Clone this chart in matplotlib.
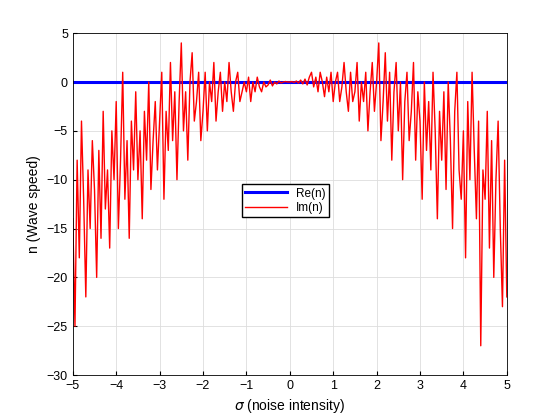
import matplotlib
matplotlib.use("Agg")
import matplotlib.pyplot as plt
import numpy as np

plt.rcParams['font.family'] = ['Liberation Sans', 'DejaVu Sans']

x_start, x_stop = -5.0, 5.0
im_vals = [
 -14,-25,-8,-18,-4,-12,-22,-9,-15,-6,
 -11,-20,-7,-16,-3,-13,-9,-17,-5,-10,
 -2,-15,-8,1,-12,-6,-16,-4,-9,-1,
 -10,-5,-14,-3,-8,0,-11,-6,-2,-9,
 -4,1,-12,-3,-7,2,-6,-1,-10,-2,
 4,-5,-1,-8,0,3,-4,-2,1,-6,
 -3,1,-5,0,-2,2,-4,-1,1,-3,
 0,-2,2,-1,-3,0,1,-2,-1,0,
 -1,0.5,-2,0,-1,0.5,-0.5,-1,0,-0.5,
 -0.3,0.2,-0.4,0,-0.2,0.1,-0.1,0,0.05,0,
 0,0.05,-0.05,0.1,-0.1,0.2,-0.2,0.3,-0.3,0.5,
 1,-0.5,0.5,-1,1,0,-1.5,0.5,-1,1,
 -2,0,1,-2,-0.5,2,-1,-3,1,-2,
 -1,2,-4,0,-2,1,-5,-1,2,-3,
 0,4,-6,-2,3,-4,1,-8,-1,2,
 -5,0,-10,-2,1,-6,-3,2,-8,-1,
 -4,-12,0,-7,-2,-9,1,-5,-14,-3,
 -8,-1,-11,0,-6,-15,-3,1,-9,-12,
 -5,-18,-2,-10,1,-7,-14,-4,-27,-9,
 -12,-3,-17,-6,-20,-10,-4,-15,-23,-8,
 -22]
x = np.linspace(x_start, x_stop, len(im_vals))
re_vals = [0.0] * len(im_vals)

fig = plt.figure(figsize=(5.6, 4.2), dpi=100)
ax = fig.add_axes([0.130, 0.107, 0.775, 0.814])
ax.plot(x, re_vals, color="#0000ff", lw=2.2, label="Re(n)")
ax.plot(x, im_vals, color="#ff0000", lw=1.0, label="Im(n)")
ax.set_xlim(-5, 5)
ax.set_ylim(-30, 5)
ax.set_xticks(range(-5, 6))
ax.set_yticks(range(-30, 6, 5))
ax.grid(True, color="#dddddd", lw=0.6)
ax.tick_params(direction="in", labelsize=9, length=3)
for s in ax.spines.values():
    s.set_linewidth(0.6)
ax.set_xlabel(r"$\sigma$ (noise intensity)", fontsize=10)
ax.set_ylabel("n (Wave speed)", fontsize=10)
ax.legend(loc="center", bbox_to_anchor=(0.49, 0.51), fontsize=8.5,
          fancybox=False, edgecolor="black", framealpha=1, handlelength=3.5,
          borderpad=0.3, labelspacing=0.2)
fig.savefig("out.png", dpi=100)
